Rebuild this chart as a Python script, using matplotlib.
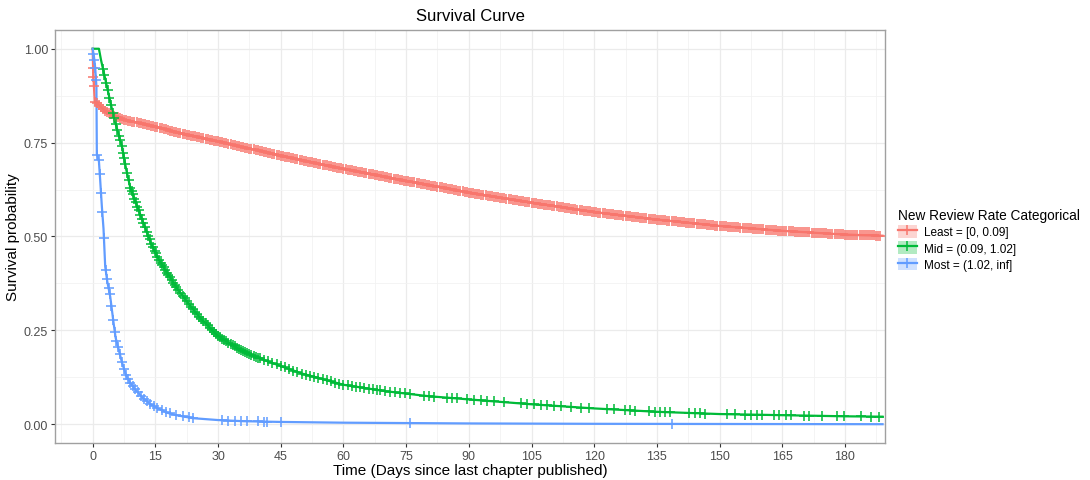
import numpy as np
import matplotlib
matplotlib.use("Agg")
import matplotlib.pyplot as plt
from matplotlib.lines import Line2D
from matplotlib.patches import Patch

plt.rcParams["font.family"] = ["Liberation Sans", "DejaVu Sans"]

# Kaplan-Meier curves (time in days, survival probability)
t_least = [0, 0.1, 0.3, 0.5, 1, 2, 3, 5, 7, 10, 15, 20, 25, 30, 40, 50, 60, 75, 90,
           105, 120, 135, 150, 165, 180, 189]
s_least = [1.0, 0.95, 0.90, 0.86, 0.855, 0.845, 0.835, 0.822, 0.812, 0.805, 0.792,
           0.778, 0.765, 0.753, 0.728, 0.703, 0.680, 0.648, 0.617, 0.590, 0.565,
           0.545, 0.528, 0.515, 0.505, 0.502]

t_mid = [0, 1.5, 2, 3, 4, 5, 6, 7, 8, 9, 10, 12, 14, 16, 18, 20, 23, 26, 30, 35, 40,
         45, 50, 60, 70, 80, 90, 105, 120, 135, 150, 165, 180, 189]
s_mid = [1.0, 1.0, 0.97, 0.92, 0.87, 0.82, 0.78, 0.74, 0.68, 0.63, 0.60, 0.54, 0.48,
         0.435, 0.40, 0.365, 0.32, 0.28, 0.235, 0.20, 0.175, 0.155, 0.135, 0.105,
         0.088, 0.075, 0.066, 0.053, 0.042, 0.033, 0.027, 0.024, 0.021, 0.020]

t_most = [0, 0.3, 0.6, 0.9, 1.0, 1.5, 1.8, 2.2, 2.6, 3, 3.5, 4.2, 5, 5.5, 6.2, 7, 8, 9,
          10, 12, 14, 16, 18, 20, 24, 30, 36, 45, 60, 90, 120, 189]
s_most = [1.0, 0.98, 0.95, 0.90, 0.72, 0.70, 0.65, 0.58, 0.52, 0.42, 0.38, 0.34, 0.27,
          0.23, 0.20, 0.165, 0.13, 0.11, 0.095, 0.07, 0.052, 0.04, 0.03, 0.024, 0.016,
          0.011, 0.008, 0.006, 0.004, 0.002, 0.001, 0.0]

# censoring times (the "+" marks)
c_least = [0.1, 0.2, 0.3, 0.6, 1, 1.5, 2, 2.5, 3, 3.5, 4, 4.5, 5, 5.5, 6, 6.5, 7, 7.5,
           8, 8.5, 9, 9.5, 10, 10.5, 11, 11.5, 12, 12.5, 13, 13.5, 14, 14.5, 15, 15.5,
           16, 16.5, 17, 17.5, 18, 18.5, 19, 19.5, 20, 20.5, 21, 21.5, 22, 22.5, 23,
           23.5, 24, 24.5, 25, 25.5, 26, 26.5, 27, 27.5, 28, 28.5, 29, 29.5, 30, 30.5,
           31, 31.5, 32, 32.5, 33, 33.5, 34, 34.5, 35, 35.5, 36, 36.5, 37, 37.5, 38,
           38.5, 39, 39.5, 40, 40.5, 41, 41.5, 42, 42.5, 43, 43.5, 44, 44.5, 45, 45.5,
           46, 46.5, 47, 47.5, 48, 48.5, 49, 49.5, 50, 50.5, 51, 51.5, 52, 52.5, 53,
           53.5, 54, 54.5, 55, 55.5, 56, 56.5, 57, 57.5, 58, 58.5, 59, 59.5, 60, 60.5,
           61, 61.5, 62, 62.5, 63, 63.5, 64, 64.5, 65, 65.5, 66, 66.5, 67, 67.5, 68,
           68.5, 69, 69.5, 70, 70.5, 71, 71.5, 72, 72.5, 73, 73.5, 74, 74.5, 75, 75.5,
           76, 76.5, 77, 77.5, 78, 78.5, 79, 79.5, 80, 80.5, 81, 81.5, 82, 82.5, 83,
           83.5, 84, 84.5, 85, 85.5, 86, 86.5, 87, 87.5, 88, 88.5, 89, 89.5, 90, 90.5,
           91, 91.5, 92, 92.5, 93, 93.5, 94, 94.5, 95, 95.5, 96, 96.5, 97, 97.5, 98,
           98.5, 99, 99.5, 100, 100.5, 101, 101.5, 102, 102.5, 103, 103.5, 104, 104.5,
           105, 105.5, 106, 106.5, 107, 107.5, 108, 108.5, 109, 109.5, 110, 110.5, 111,
           111.5, 112, 112.5, 113, 113.5, 114, 114.5, 115, 115.5, 116, 116.5, 117,
           117.5, 118, 118.5, 119, 119.5, 120, 120.5, 121, 121.5, 122, 122.5, 123,
           123.5, 124, 124.5, 125, 125.5, 126, 126.5, 127, 127.5, 128, 128.5, 129,
           129.5, 130, 130.5, 131, 131.5, 132, 132.5, 133, 133.5, 134, 134.5, 135,
           135.5, 136, 136.5, 137, 137.5, 138, 138.5, 139, 139.5, 140, 140.5, 141,
           141.5, 142, 142.5, 143, 143.5, 144, 144.5, 145, 145.5, 146, 146.5, 147,
           147.5, 148, 148.5, 149, 149.5, 150, 150.5, 151, 151.5, 152, 152.5, 153,
           153.5, 154, 154.5, 155, 155.5, 156, 156.5, 157, 157.5, 158, 158.5, 159,
           159.5, 160, 160.5, 161, 161.5, 162, 162.5, 163, 163.5, 164, 164.5, 165,
           165.5, 166, 166.5, 167, 167.5, 168, 168.5, 169, 169.5, 170, 170.5, 171,
           171.5, 172, 172.5, 173, 173.5, 174, 174.5, 175, 175.5, 176, 176.5, 177,
           177.5, 178, 178.5, 179, 179.5, 180, 180.5, 181, 181.5, 182, 182.5, 183,
           183.5, 184, 184.5, 185, 185.5, 186, 186.5, 187, 187.5, 188, 188.5]
c_mid = [2.5, 2.8, 3.2, 3.6, 4, 4.4, 4.8, 5.1, 5.5, 5.9, 6.3, 6.6, 7, 7.3, 7.5, 7.8, 8.2,
         8.6, 9, 9.3, 9.6, 10, 10.3, 10.7, 11, 11.4, 11.8, 12.1, 12.5, 12.9, 13.3, 13.6,
         14, 14.4, 14.8, 15.1, 15.5, 15.9, 16.3, 16.6, 17, 17.4, 17.8, 18.1, 18.5, 18.9,
         19.3, 19.6, 20, 20.5, 21, 21.5, 22, 22.5, 23, 23.5, 24, 24.5, 25, 25.5, 26,
         26.5, 27, 27.5, 28, 28.5, 29, 29.5, 30, 30.5, 31, 31.5, 32, 32.5, 33, 33.5, 34,
         34.5, 35, 35.5, 36, 36.5, 37, 37.5, 38, 38.5, 39, 39.5, 40, 41, 42, 43, 44, 45,
         46, 47, 48, 49, 50, 51, 52, 53, 54, 55, 56, 57, 58, 59, 60, 61, 62, 63, 64, 65,
         66, 67, 68, 68.8, 70, 71.2, 72.4, 73.6, 74.8, 76.0, 79.2, 80.4, 81.6, 84.8,
         86.0, 87.2, 89.6, 91.2, 92.8, 94.4, 96.0, 98.4, 102.4, 104.0, 105.6, 107.2,
         108.8, 110.4, 112.0, 114.4, 116.8, 118.8, 123.1, 124.7, 127.4, 128.6, 129.8,
         133.0, 134.6, 135.8, 137.0, 138.2, 142.6, 144.2, 145.4, 146.6, 151.8, 153.8,
         156.2, 157.4, 159.0, 160.2, 163.0, 164.2, 165.8, 167.0, 170.2, 171.4, 174.6,
         178.2, 179.8, 183.8, 186.2, 188.2]
c_most = [0.2, 0.4, 0.6, 0.8, 1.1, 1.4, 1.7, 2.0, 2.3, 2.7, 3.1, 3.4, 3.8, 4.1, 4.5, 4.9,
          5.3, 5.7, 6.1, 6.5, 7.0, 7.5, 8.0, 8.5, 9.0, 9.6, 10.2, 10.8, 11.5, 12.2, 13,
          13.8, 14.6, 15.5, 16.5, 17.5, 18.5, 20, 21.5, 23, 24, 31, 32.5, 34, 35.6, 37,
          39.5, 41, 41.8, 45, 76, 138.6]

labels = ["Least = [0, 0.09]", "Mid = (0.09, 1.02]", "Most = (1.02, inf]"]
colors = ["#F8766D", "#00BA38", "#619CFF"]

curves = [(t_least, s_least, c_least), (t_mid, s_mid, c_mid), (t_most, s_most, c_most)]

fig = plt.figure(figsize=(10.9, 4.81), dpi=100)
ax = fig.add_axes([0.0505, 0.077, 0.7615, 0.8586])

for (t, s, c), col in zip(curves, colors):
    ax.plot(t, s, color=col, lw=1.6, zorder=3)
    cy = np.interp(c, t, s)
    ax.plot(c, cy, ls="none", marker="+", ms=6.5, mew=1.1, color=col, zorder=4)

ax.set_xlim(-9.0, 189.6)
ax.set_ylim(-0.05, 1.05)
ax.set_xticks(np.arange(0, 181, 15))
ax.set_xticks(np.arange(-7.5, 189, 15), minor=True)
ax.set_yticks([0, 0.25, 0.5, 0.75, 1.0])
ax.set_yticklabels(["0.00", "0.25", "0.50", "0.75", "1.00"])
ax.set_yticks([0.125, 0.375, 0.625, 0.875], minor=True)
ax.grid(which="major", color="#EBEBEB", lw=0.9, zorder=0)
ax.grid(which="minor", color="#F2F2F2", lw=0.6, zorder=0)
ax.tick_params(which="major", length=3, color="#333333", labelsize=9,
               labelcolor="#4D4D4D", pad=2)
ax.tick_params(which="minor", length=0)
for sp in ax.spines.values():
    sp.set_color("#A0A0A0")
    sp.set_linewidth(1.0)
ax.set_axisbelow(True)

ax.set_title("Survival Curve", fontsize=12, pad=7)
ax.set_xlabel("Time (Days since last chapter published)", fontsize=11, labelpad=1)
ax.set_ylabel("Survival probability", fontsize=11, labelpad=3)

handles = []
for col in colors:
    patch = Patch(facecolor=col, alpha=0.3, edgecolor="none")
    line = Line2D([], [], color=col, lw=1.6, marker="+", ms=6.5, mew=1.1)
    handles.append((patch, line))
fig.legend(handles, labels, title="New Review Rate Categorical", loc="center left",
           bbox_to_anchor=(0.814, 0.5), frameon=False, fontsize=8.5,
           title_fontsize=9.8, handlelength=1.6, handleheight=1.3,
           labelspacing=0.25, handletextpad=0.6, alignment="left")

fig.savefig("out.png", dpi=100)
